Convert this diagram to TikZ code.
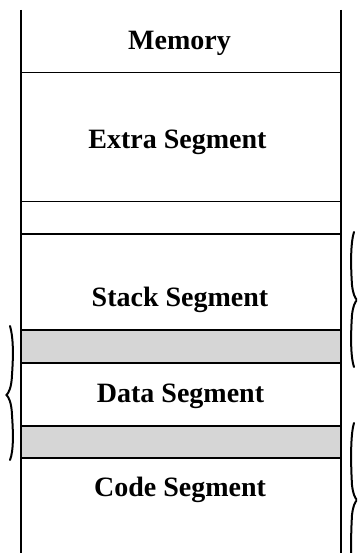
\documentclass[tikz,border=0pt]{standalone}
\usepackage{fontspec}
\setmainfont{Liberation Serif}
\begin{document}
\begin{tikzpicture}[x=1bp,y=-1bp,
  seglabel/.style={anchor=base,inner sep=0pt,font=\fontsize{28bp}{32bp}\selectfont\bfseries},
  rule/.style={line width=1.9bp,black},
  wall/.style={line width=2bp,black},
  overlap/.style={fill=black!16},
  bracestroke/.style={line width=2bp,black,line cap=round}]
\useasboundingbox (0,0) rectangle (357,553);
\clip (0,0) rectangle (357,553);
% shaded overlap bands
\fill[overlap] (20.5,330) rectangle (341,363);
\fill[overlap] (20.5,426) rectangle (341,458);
% horizontal rules
\foreach \yy in {72.5,201.5,234,330,363,426,458}
  \draw[rule] (20.5,\yy) -- (341,\yy);
% side walls
\draw[wall] (20.5,10) -- (20.5,553);
\draw[wall] (341,10) -- (341,553);
% labels
\node[seglabel] (mem) at (179.5,49.3) {Memory};
\node[seglabel] (es) at (177.5,148.3) {Extra Segment};
\node[seglabel] (ss) at (180,306.7) {Stack Segment};
\node[seglabel] (ds) at (180.5,402.3) {Data Segment};
\node[seglabel] (cs) at (180,496) {Code Segment};
% left brace (data segment)
\draw[bracestroke] (10,326) .. controls (14,340) and (13,360) .. (12,375)
  .. controls (11.5,388) and (8.5,393) .. (6.5,395)
  .. controls (8.5,397) and (11.5,402) .. (12,415)
  .. controls (13,430) and (14,450) .. (10,460);
% right brace (stack segment)
\draw[bracestroke] (354,232) .. controls (350,245) and (351,270) .. (352,285)
  .. controls (353,294) and (355,298) .. (357,300)
  .. controls (355,302) and (353,306) .. (352,315)
  .. controls (351,330) and (350,355) .. (354,367);
% right brace (code segment)
\draw[bracestroke] (354,423) .. controls (350,436) and (351,468) .. (352,485)
  .. controls (353,494) and (355,498) .. (357,500)
  .. controls (355,502) and (353,506) .. (352,515)
  .. controls (351,532) and (350,564) .. (354,577);
\end{tikzpicture}
\end{document}
